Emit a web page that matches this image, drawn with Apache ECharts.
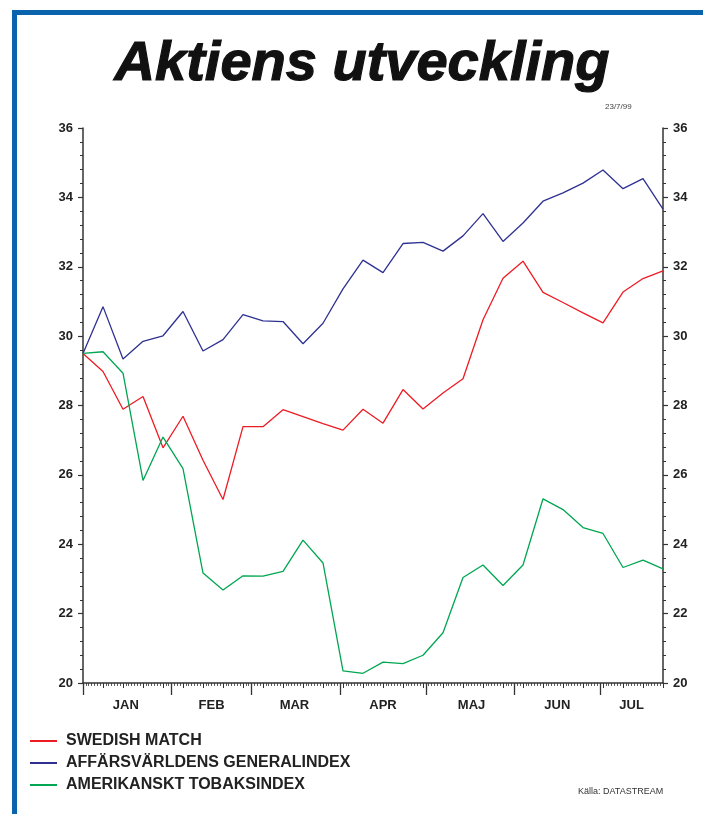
<!DOCTYPE html>
<html>
<head>
<meta charset="utf-8">
<title>Aktiens utveckling</title>
<script src="https://cdn.jsdelivr.net/npm/echarts@6/dist/echarts.min.js"></script>
<style>
  html, body { margin: 0; padding: 0; background: #fff; }
  #chart { width: 703px; height: 814px; }
</style>
</head>
<body>
<div id="chart"></div>
<script>
// veckovärden, fredagar 1 jan - 23 jul 1999 (dag 0 = 1 jan)
const weekDays = [0, 7, 14, 21, 28, 35, 42, 49, 56, 63, 70, 77, 84, 91, 98,
  105, 112, 119, 126, 133, 140, 147, 154, 161, 168, 175, 182, 189, 196, 203]

const swedishMatch = [29.5, 28.98, 27.89, 28.26, 26.78, 27.69, 26.42, 25.29, 27.39, 27.39,
  27.88, 27.68, 27.48, 27.29, 27.89, 27.49, 28.46, 27.9, 28.36, 28.77,
  30.47, 31.67, 32.16, 31.26, 30.97, 30.67, 30.38, 31.27, 31.66, 31.88]

const generalIndex = [29.5, 30.85, 29.34, 29.85, 30.01, 30.71, 29.57, 29.9, 30.62, 30.44,
  30.42, 29.78, 30.37, 31.36, 32.19, 31.83, 32.67, 32.7, 32.45, 32.89,
  33.53, 32.73, 33.26, 33.89, 34.13, 34.41, 34.79, 34.25, 34.54, 33.66]

const tobaksIndex = [29.5, 29.55, 28.93, 25.84, 27.09, 26.18, 23.17, 22.68, 23.09, 23.08,
  23.22, 24.12, 23.46, 20.35, 20.28, 20.6, 20.56, 20.8, 21.45, 23.04,
  23.4, 22.81, 23.4, 25.31, 25.0, 24.48, 24.31, 23.33, 23.54, 23.29]

const seriesNames = ['SWEDISH MATCH', 'AFFÄRSVÄRLDENS GENERALINDEX', 'AMERIKANSKT TOBAKSINDEX']
const seriesColors = ['#ed1c24', '#2e3192', '#00a651']

const monthNames = ['JAN', 'FEB', 'MAR', 'APR', 'MAJ', 'JUN', 'JUL']
const monthStarts = [0, 31, 59, 90, 120, 151, 181]
const monthLabelDays = [15, 45, 74, 105, 136, 166, 192]

const lastDay = 203
const days = []
for (let d = 0; d <= lastDay; d++) days.push(d)

const font = "'Liberation Sans', Arial, Helvetica, sans-serif"
const axisColor = '#333'

function toPairs(values) {
  return values.map((v, i) => [weekDays[i], v])
}

const yAxisBase = {
  type: 'value',
  min: 20,
  max: 36,
  interval: 2,
  axisLine: { show: true, lineStyle: { color: axisColor, width: 1.5 } },
  axisTick: { show: true, length: 5, lineStyle: { color: axisColor, width: 1.2 } },
  minorTick: { show: true, splitNumber: 5, length: 3, lineStyle: { color: axisColor, width: 1 } },
  splitLine: { show: false },
  axisLabel: {
    margin: 10,
    fontFamily: font,
    fontWeight: 'bold',
    fontSize: 13,
    color: '#222',
    padding: [0, 0, 6, 0],
  },
}

const chart = echarts.init(document.getElementById('chart'), null, { renderer: 'canvas' })

chart.setOption({
  backgroundColor: '#fff',
  animation: false,
  grid: { left: 83, right: 40, top: 128, bottom: 131 },
  legend: {
    orient: 'vertical',
    left: 25,
    top: 728,
    icon: 'rect',
    itemWidth: 27,
    itemHeight: 2,
    itemGap: 6,
    data: seriesNames,
    textStyle: {
      fontFamily: font,
      fontWeight: 'bold',
      fontSize: 16,
      color: '#222',
      padding: [0, 0, 5, 4],
    },
  },
  xAxis: [
    {
      type: 'value',
      min: 0,
      max: lastDay,
      interval: 7,
      axisLine: { show: true, onZero: false, lineStyle: { color: axisColor, width: 1.5 } },
      axisTick: { show: true, length: 5, lineStyle: { color: axisColor, width: 1 } },
      minorTick: { show: true, splitNumber: 7, length: 3, lineStyle: { color: axisColor, width: 0.8 } },
      axisLabel: { show: false },
      splitLine: { show: false },
    },
    {
      type: 'category',
      position: 'bottom',
      boundaryGap: false,
      data: days,
      axisLine: { show: false },
      axisTick: {
        show: true,
        length: 12,
        interval: (i) => monthStarts.includes(i),
        lineStyle: { color: axisColor, width: 1.3 },
      },
      axisLabel: {
        interval: (i) => monthLabelDays.includes(i),
        formatter: (v, i) => monthNames[monthLabelDays.indexOf(i)] || '',
        margin: 16,
        fontFamily: font,
        fontWeight: 'bold',
        fontSize: 13,
        color: '#222',
      },
      splitLine: { show: false },
    },
  ],
  yAxis: [
    Object.assign({}, yAxisBase, { position: 'left' }),
    Object.assign({}, yAxisBase, { position: 'right' }),
  ],
  series: [swedishMatch, generalIndex, tobaksIndex].map((vals, i) => ({
    name: seriesNames[i],
    type: 'line',
    xAxisIndex: 0,
    yAxisIndex: 0,
    data: toPairs(vals),
    symbol: 'none',
    color: seriesColors[i],
    lineStyle: { width: 1.3, color: seriesColors[i] },
  })),
  graphic: [
    // blå ram
    { type: 'rect', shape: { x: 12, y: 10, width: 691, height: 5 }, style: { fill: '#0a64ad' } },
    { type: 'rect', shape: { x: 12, y: 10, width: 5, height: 804 }, style: { fill: '#0a64ad' } },
    {
      type: 'text',
      x: 362,
      y: 65,
      style: {
        text: 'Aktiens utveckling',
        fontFamily: font,
        fontWeight: 'bold',
        fontStyle: 'italic',
        fontSize: 56,
        fill: '#111',
        stroke: '#111',
        lineWidth: 1.2,
        textAlign: 'center',
        textVerticalAlign: 'middle',
      },
    },
    {
      type: 'text',
      x: 605,
      y: 107,
      style: {
        text: '23/7/99',
        fontFamily: font,
        fontSize: 8,
        fill: '#444',
        textVerticalAlign: 'middle',
      },
    },
    {
      type: 'text',
      x: 578,
      y: 792,
      style: {
        text: 'Källa: DATASTREAM',
        fontFamily: font,
        fontSize: 9,
        fill: '#333',
        textVerticalAlign: 'middle',
      },
    },
  ],
})
</script>
</body>
</html>
